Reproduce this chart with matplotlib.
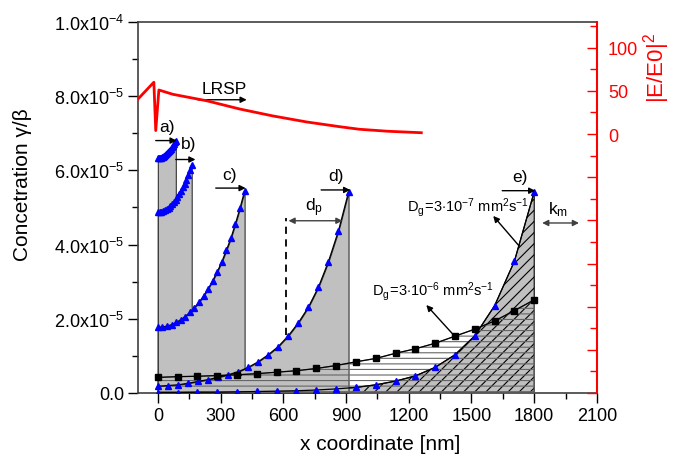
import matplotlib
matplotlib.use('Agg')
import matplotlib.pyplot as plt
import numpy as np
from matplotlib.ticker import MultipleLocator, FuncFormatter

plt.rcParams['font.family'] = ['Liberation Sans', 'DejaVu Sans']
plt.rcParams['mathtext.fontset'] = 'custom'
plt.rcParams['mathtext.rm'] = 'Liberation Sans'
plt.rcParams['mathtext.it'] = 'Liberation Sans:italic'
plt.rcParams['hatch.linewidth'] = 0.8

# profile ends (nm), 20 points per profile
end_a, end_b, end_c, end_d, end_e = 86, 162, 415, 912, 1800

# concentration in units of 1e-5
conc_a = [6.33, 6.33, 6.34, 6.34, 6.35, 6.36, 6.38, 6.39, 6.41, 6.43,
          6.46, 6.48, 6.51, 6.55, 6.58, 6.62, 6.66, 6.70, 6.75, 6.80]
conc_b = [4.87, 4.87, 4.88, 4.90, 4.92, 4.95, 4.99, 5.03, 5.08, 5.14,
          5.21, 5.28, 5.36, 5.45, 5.54, 5.63, 5.74, 5.86, 6.00, 6.15]
conc_c = [1.77, 1.78, 1.80, 1.84, 1.90, 1.97, 2.06, 2.17, 2.30, 2.44,
          2.61, 2.80, 3.02, 3.26, 3.53, 3.84, 4.17, 4.56, 4.98, 5.44]
conc_d = [0.18, 0.20, 0.22, 0.26, 0.31, 0.36, 0.42, 0.49, 0.57, 0.69,
          0.84, 1.03, 1.25, 1.54, 1.89, 2.31, 2.85, 3.54, 4.37, 5.41]
conc_e = [0.01, 0.01, 0.02, 0.02, 0.03, 0.04, 0.05, 0.06, 0.08, 0.11,
          0.15, 0.22, 0.32, 0.46, 0.69, 1.03, 1.54, 2.35, 3.55, 5.42]
conc_dg6 = [0.42, 0.44, 0.45, 0.47, 0.49, 0.52, 0.56, 0.60, 0.66, 0.74,
            0.84, 0.93, 1.07, 1.19, 1.34, 1.53, 1.72, 1.94, 2.22, 2.51]

# field enhancement |E/E0|^2
field_x = [-95, -19, -10, 5, 72, 234, 391, 549, 711, 869, 964, 1100, 1260]
field_y = [40.5, 60, 4, 51, 46, 38.5, 29, 21, 14, 8.5, 5.5, 3.2, 1.5]

GRAY = '#c0c0c0'
BLUE = '#0000ff'

fig = plt.figure(figsize=(6.73, 4.56), dpi=100)
ax = fig.add_axes([0.205, 0.136, 0.682, 0.814])

def xs(end):
    return np.linspace(0, end, 20)

def c(v):
    return np.array(v) * 1e-5

# hatched Dg=3e-7 region (drawn first, covered by d)
ax.fill_between(xs(end_e), 0, c(conc_e), facecolor=GRAY, edgecolor='k',
                hatch='///', lw=0.8, zorder=1)
for end, vals in [(end_a, conc_a), (end_b, conc_b), (end_c, conc_c), (end_d, conc_d)]:
    ax.fill_between(xs(end), 0, c(vals), facecolor=GRAY, edgecolor='0.2',
                    lw=0.8, zorder=2)
ax.fill_between(xs(end_e), 0, c(conc_dg6), facecolor='none', edgecolor='0.4',
                hatch='---', lw=0.8, zorder=3)

for end, vals in [(end_a, conc_a), (end_b, conc_b), (end_c, conc_c),
                  (end_d, conc_d), (end_e, conc_e)]:
    ax.plot(xs(end), c(vals), color='k', lw=0.9, zorder=4)
    ax.plot(xs(end), c(vals), ls='none', marker='^', ms=4.5, color=BLUE,
            mec=BLUE, zorder=5)
ax.plot(xs(end_e), c(conc_dg6), color='k', lw=0.9, marker='s', ms=3.8,
        zorder=5)

# dashed marker of penetration depth
ax.plot([611, 611], [1.55e-5, 4.72e-5], color='k', ls=(0, (4, 3)), lw=1.3,
        zorder=6)

arr = dict(arrowstyle='-|>', color='k', lw=1, mutation_scale=9,
           shrinkA=0, shrinkB=0)
arr2 = dict(arrowstyle='<|-|>', color='0.25', lw=1, mutation_scale=9,
            shrinkA=0, shrinkB=0)

def arrow(x0, y0, x1, y1, props=arr):
    ax.annotate('', xy=(x1, y1 * 1e-5), xytext=(x0, y0 * 1e-5),
                arrowprops=props, zorder=7)

arrow(-10, 6.80, 90, 6.80)
arrow(86, 6.29, 180, 6.29)
arrow(277, 5.52, 420, 5.52)
arrow(781, 5.47, 920, 5.47)
arrow(1647, 5.45, 1805, 5.45)
arrow(191, 7.90, 425, 7.90)
arrow(625, 4.64, 883, 4.64, arr2)
arrow(1838, 4.58, 2014, 4.58, arr2)
arrow(1728, 3.96, 1604, 4.77)
arrow(1418, 1.54, 1284, 2.37)

lab = dict(fontsize=12.5, ha='center', va='center', zorder=8)
ax.text(43, 7.18e-5, 'a)', **lab)
ax.text(148, 6.71e-5, 'b)', **lab)
ax.text(344, 5.88e-5, 'c)', **lab)
ax.text(854, 5.85e-5, 'd)', **lab)
ax.text(1733, 5.82e-5, 'e)', **lab)
ax.text(320, 8.20e-5, 'LRSP', fontsize=12.5, ha='center', va='center')
ax.text(745, 5.02e-5, r'$\mathrm{d_p}$', fontsize=12.5, ha='center', va='center')
ax.text(1915, 4.97e-5, r'$\mathrm{k_m}$', fontsize=12.5, ha='center', va='center')
ax.text(1193, 5.01e-5, r'$\mathrm{D_g\!=\!3{\cdot}10^{-7}\ mm^2s^{-1}}$',
        fontsize=10.5, ha='left', va='center')
ax.text(1026, 2.75e-5, r'$\mathrm{D_g\!=\!3{\cdot}10^{-6}\ mm^2s^{-1}}$',
        fontsize=10.5, ha='left', va='center')

ax.set_xlim(-95, 2100)
ax.set_ylim(0, 1e-4)
ax.xaxis.set_major_locator(MultipleLocator(300))
ax.xaxis.set_minor_locator(MultipleLocator(150))
ax.yaxis.set_major_locator(MultipleLocator(2e-5))
ax.yaxis.set_minor_locator(MultipleLocator(1e-5))

def sci_fmt(v, pos):
    if abs(v) < 1e-12:
        return '0.0'
    if v < 0:
        return ''
    exp = int(np.floor(np.log10(v) + 1e-9))
    return r'$%.1f\mathrm{x}10^{%d}$' % (v / 10 ** exp, exp)

ax.yaxis.set_major_formatter(FuncFormatter(sci_fmt))
ax.tick_params(axis='both', which='major', direction='out', length=7,
               width=1, labelsize=13, pad=3)
ax.tick_params(axis='both', which='minor', direction='out', length=4, width=1)
ax.tick_params(top=False, right=False, which='both')
for s in ['left', 'bottom', 'top']:
    ax.spines[s].set_color('0.25')
    ax.spines[s].set_linewidth(1.2)
ax.spines['right'].set_visible(False)

ax2 = ax.twinx()
ax2.plot(field_x, field_y, color='red', lw=2, zorder=3)
ax2.set_ylim(-300, 130)
ax2.yaxis.set_major_locator(MultipleLocator(50))
ax2.yaxis.set_minor_locator(MultipleLocator(25))
ax2.yaxis.set_major_formatter(FuncFormatter(lambda v, p: '%d' % v if v >= 0 else ''))
ax2.tick_params(axis='y', which='major', direction='in', length=7, width=1,
                colors='red', labelsize=13, pad=8)
ax2.tick_params(axis='y', which='minor', direction='in', length=5, width=1,
                colors='red')
for s in ['left', 'bottom', 'top']:
    ax2.spines[s].set_visible(False)
ax2.spines['right'].set_color('red')
ax2.spines['right'].set_linewidth(1.5)

fig.text(0.034, 0.595, 'Concetration γ/β', rotation=90, fontsize=15,
         ha='center', va='center')
fig.text(0.565, 0.025, 'x coordinate [nm]', fontsize=15, ha='center',
         va='center')
fig.text(0.976, 0.85, r'$\mathrm{|E/E0|^2}$', rotation=90, fontsize=16,
         color='red', ha='center', va='center')

fig.savefig('out.png', dpi=100)
